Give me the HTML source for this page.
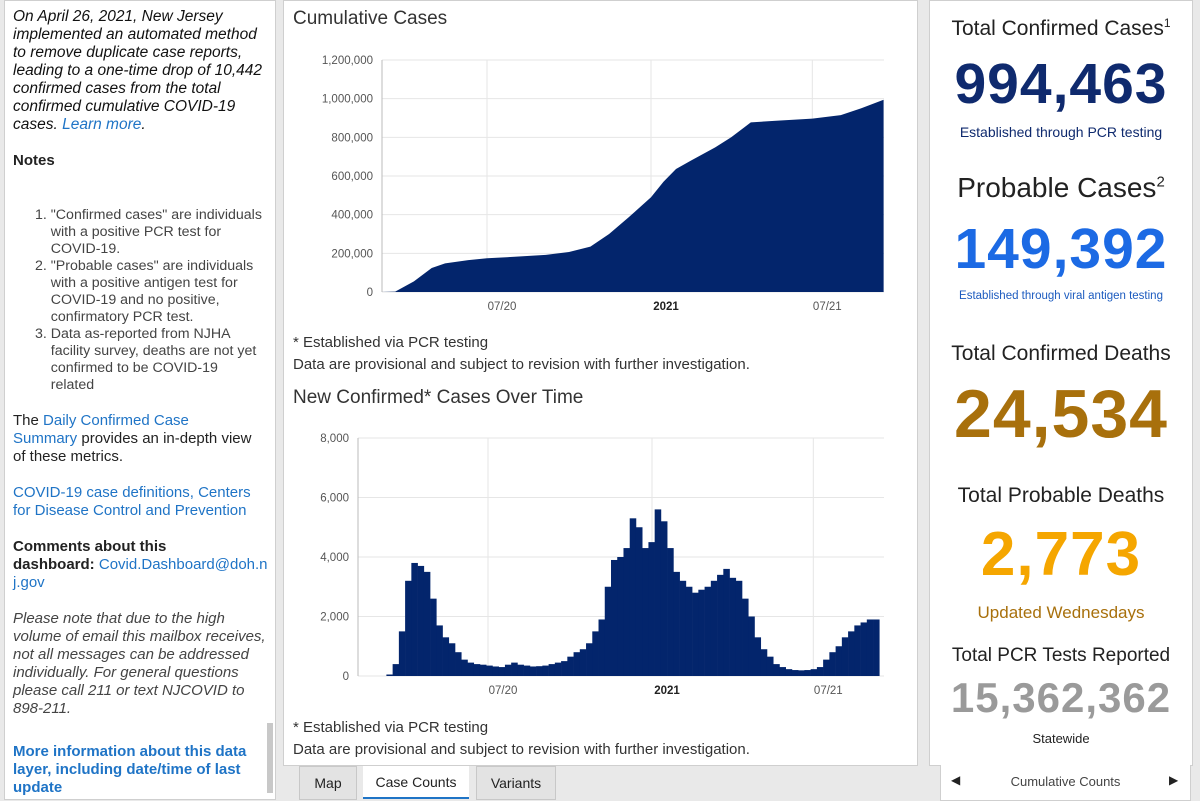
<!DOCTYPE html>
<html><head><meta charset="utf-8"><style>
body{margin:0;width:1200px;height:800px;background:#e9e9e9;font-family:"Liberation Sans",sans-serif;position:relative;overflow:hidden;color:#222}
.abs{position:absolute;white-space:nowrap}
.panel{position:absolute;background:#fff;border:1px solid #cfcfcf}
a{color:#1f74c6;text-decoration:none}
.lt{font-size:15px;line-height:18px}
.num{font-weight:bold;letter-spacing:1px}
</style></head><body>
<div class="panel" style="left:4px;top:0;width:270px;height:798px;">
 <div class="abs lt" style="left:8px;top:7px;font-style:italic;color:#111;font-size:15.5px">On April 26, 2021, New Jersey<br>implemented an automated method<br>to remove duplicate case reports,<br>leading to a one-time drop of 10,442<br>confirmed cases from the total<br>confirmed cumulative COVID-19<br>cases. <a>Learn more</a>.</div>
 <div class="abs lt" style="left:8px;top:151px;font-weight:bold">Notes</div>
 <div class="abs lt" style="left:30px;top:206px;color:#444;line-height:17px;font-size:14.2px">1. "Confirmed cases" are individuals<br>&nbsp;&nbsp;&nbsp;&nbsp;with a positive PCR test for<br>&nbsp;&nbsp;&nbsp;&nbsp;COVID-19.<br>2. "Probable cases" are individuals<br>&nbsp;&nbsp;&nbsp;&nbsp;with a positive antigen test for<br>&nbsp;&nbsp;&nbsp;&nbsp;COVID-19 and no positive,<br>&nbsp;&nbsp;&nbsp;&nbsp;confirmatory PCR test.<br>3. Data as-reported from NJHA<br>&nbsp;&nbsp;&nbsp;&nbsp;facility survey, deaths are not yet<br>&nbsp;&nbsp;&nbsp;&nbsp;confirmed to be COVID-19<br>&nbsp;&nbsp;&nbsp;&nbsp;related</div>
 <div class="abs lt" style="left:8px;top:411px">The <a>Daily Confirmed Case<br>Summary</a> provides an in-depth view<br>of these metrics.</div>
 <div class="abs lt" style="left:8px;top:483px"><a>COVID-19 case definitions, Centers<br>for Disease Control and Prevention</a></div>
 <div class="abs lt" style="left:8px;top:537px"><b>Comments about this<br>dashboard:</b> <a>Covid.Dashboard@doh.n<br>j.gov</a></div>
 <div class="abs lt" style="left:8px;top:609px;font-style:italic;color:#444">Please note that due to the high<br>volume of email this mailbox receives,<br>not all messages can be addressed<br>individually. For general questions<br>please call 211 or text NJCOVID to<br>898-211.</div>
 <div class="abs lt" style="left:8px;top:742px;font-weight:bold"><a style="color:#1f74c6">More information about this data<br>layer, including date/time of last<br>update</a></div>
 <div class="abs" style="left:262px;top:722px;width:6px;height:70px;background:#c8c8c8"></div>
</div>

<div class="panel" style="left:283px;top:0;width:633px;height:764px;">
 <div class="abs" style="left:9px;top:7px;font-size:19px;color:#333">Cumulative Cases</div>
 <div class="abs" style="left:9px;top:331px;font-size:15px;line-height:22px;color:#333">* Established via PCR testing<br>Data are provisional and subject to revision with further investigation.</div>
 <div class="abs" style="left:9px;top:386px;font-size:19px;color:#333">New Confirmed* Cases Over Time</div>
 <div class="abs" style="left:9px;top:716px;font-size:15px;line-height:22px;color:#333">* Established via PCR testing<br>Data are provisional and subject to revision with further investigation.</div>
</div>
<svg id="chart" width="1200" height="800" style="position:absolute;left:0;top:0" font-family="Liberation Sans, sans-serif"></svg>

<div class="panel" style="left:929px;top:0;width:262px;height:764px;text-align:center">
 <div class="abs" style="left:0;width:262px;top:15px;font-size:21px">Total Confirmed Cases<sup style="font-size:12px">1</sup></div>
 <div class="abs num" style="left:0;width:262px;top:50px;font-size:57px;color:#0f2a6e">994,463</div>
 <div class="abs" style="left:0;width:262px;top:123px;font-size:14px;color:#0f2a6e">Established through PCR testing</div>
 <div class="abs" style="left:0;width:262px;top:171px;font-size:28px">Probable Cases<sup style="font-size:15px">2</sup></div>
 <div class="abs num" style="left:0;width:262px;top:215px;font-size:57px;color:#1c6ae4">149,392</div>
 <div class="abs" style="left:0;width:262px;top:289px;font-size:11.5px;color:#1c5bbf">Established through viral antigen testing</div>
 <div class="abs" style="left:0;width:262px;top:341px;font-size:21px">Total Confirmed Deaths</div>
 <div class="abs num" style="left:0;width:262px;top:374px;font-size:68px;color:#a8700c">24,534</div>
 <div class="abs" style="left:0;width:262px;top:483px;font-size:21px">Total Probable Deaths</div>
 <div class="abs num" style="left:0;width:262px;top:518px;font-size:62px;color:#f5a600">2,773</div>
 <div class="abs" style="left:0;width:262px;top:602px;font-size:17px;color:#a8700c">Updated Wednesdays</div>
 <div class="abs" style="left:0;width:262px;top:644px;font-size:19px">Total PCR Tests Reported</div>
 <div class="abs num" style="left:0;width:262px;top:673px;font-size:42px;color:#9a9a9a">15,362,362</div>
 <div class="abs" style="left:0;width:262px;top:730px;font-size:13px">Statewide</div>
</div>
<div class="panel" style="left:940px;top:765px;width:249px;height:35px;border-top:none">
 <div class="abs" style="left:10px;top:8px;font-size:12px">◀</div>
 <div class="abs" style="left:0;width:249px;text-align:center;top:9px;font-size:13px;color:#444">Cumulative Counts</div>
 <div class="abs" style="left:228px;top:8px;font-size:12px">▶</div>
</div>
<div class="abs" style="left:299px;top:766px;width:56px;height:32px;background:#e3e3e3;border:1px solid #c8c8c8;font-size:14px;text-align:center;line-height:32px">Map</div>
<div class="abs" style="left:363px;top:766px;width:106px;height:31px;background:#fff;border-bottom:2px solid #1f74c6;font-size:14px;text-align:center;line-height:32px">Case Counts</div>
<div class="abs" style="left:476px;top:766px;width:78px;height:32px;background:#e3e3e3;border:1px solid #c8c8c8;font-size:14px;text-align:center;line-height:32px">Variants</div>

<script>
// Cumulative cases (dates and values)
const cumDates = ["2020-03-04","2020-03-20","2020-04-10","2020-04-30","2020-05-15","2020-06-10","2020-07-01","2020-08-01","2020-09-05","2020-10-01","2020-10-25","2020-11-15","2020-12-07","2020-12-20","2021-01-01","2021-01-15","2021-01-29","2021-02-15","2021-03-14","2021-04-01","2021-04-23","2021-05-19","2021-07-01","2021-08-02","2021-08-25","2021-09-19"];
const cumValues = [0,2000,55000,124000,148000,165000,175000,182000,192000,207000,235000,300000,387000,440000,490000,570000,636000,680000,748000,800000,877000,885000,897000,915000,950000,994463];
const cumTicks = [0,200000,400000,600000,800000,1000000,1200000];
// New confirmed cases, weekly, week-start dates from 2020-03-09
const newStart = "2020-03-09";
const newValues = [50,400,1500,3200,3800,3700,3500,2600,1700,1300,1100,800,550,450,400,380,350,320,300,380,450,380,350,320,330,350,400,450,500,650,800,900,1100,1500,1900,3000,3900,4000,4300,5300,5000,4300,4500,5600,5200,4300,3500,3200,3000,2800,2900,3000,3200,3400,3600,3300,3200,2600,2000,1300,900,650,400,300,230,200,190,200,230,300,550,800,1000,1300,1500,1700,1800,1900,1900];
const newTicks = [0,2000,4000,6000,8000];
const dateTicks = [["2020-07-01","07/20",false],["2021-01-01","2021",true],["2021-07-01","07/21",false]];

const svg=document.getElementById('chart');const NS='http://www.w3.org/2000/svg';
function mk(t,a,p){const e=document.createElementNS(NS,t);for(const k in a)e.setAttribute(k,a[k]);(p||svg).appendChild(e);return e;}
const day=86400000, T=s=>new Date(s+"T00:00:00Z").getTime();
const ref=T("2020-07-01"), pxd=164/184;
function xAt(t,x0){return x0+(t-ref)/day*pxd;}

function axes(cfg,ticks,fmt,name){
 const g=mk('g',{});
 
 
 ticks.forEach(v=>{const y=cfg.y(v);
  mk('line',{x1:cfg.left,x2:cfg.right,y1:y,y2:y,stroke:'#e6e6e6'},g);
  const t=mk('text',{x:cfg.left-9,y:y+4,'text-anchor':'end','font-size':11.5,fill:'#555'},g);t.textContent=fmt(v);
  
  });
 dateTicks.forEach(d=>{const x=cfg.x(T(d[0]));
  mk('line',{x1:x,x2:x,y1:cfg.top,y2:cfg.bottom,stroke:'#e6e6e6'},g);
  const t=mk('text',{x:x+15,y:cfg.bottom+18,'text-anchor':'middle','font-size':11.5,fill:d[2]?'#222':'#555','font-weight':d[2]?'bold':'normal'},g);t.textContent=d[1];
  
  });
 mk('line',{x1:cfg.left,x2:cfg.left,y1:cfg.top,y2:cfg.bottom,stroke:'#bbb'},g);
 return g;}
const fmt=v=>v.toLocaleString('en-US');

// Cumulative chart
const c1={left:382,right:884,top:60,bottom:292,x:t=>xAt(t,487),y:v=>292-v/1200000*232};
axes(c1,cumTicks,fmt,'cumulative');
let pts=cumDates.map((d,i)=>c1.x(T(d)).toFixed(1)+','+c1.y(cumValues[i]).toFixed(1));
const last=c1.x(T(cumDates[cumDates.length-1])),first=c1.x(T(cumDates[0]));
const area=mk('polygon',{points:first+','+c1.bottom+' '+pts.join(' ')+' '+last+','+c1.bottom,fill:'#03256c'});



// New cases chart
const c2={left:358,right:884,top:438,bottom:676,x:t=>xAt(t,488),y:v=>676-v/8000*238};
axes(c2,newTicks,fmt,'new-cases');
const s0=T(newStart);
newValues.forEach((v,i)=>{const x0=c2.x(s0+i*7*day),x1=c2.x(s0+(i+1)*7*day);
 const r=mk('rect',{x:x0,y:c2.y(v),width:x1-x0+0.3,height:c2.bottom-c2.y(v),fill:'#03256c'});
 
 });
</script>
</body></html>
